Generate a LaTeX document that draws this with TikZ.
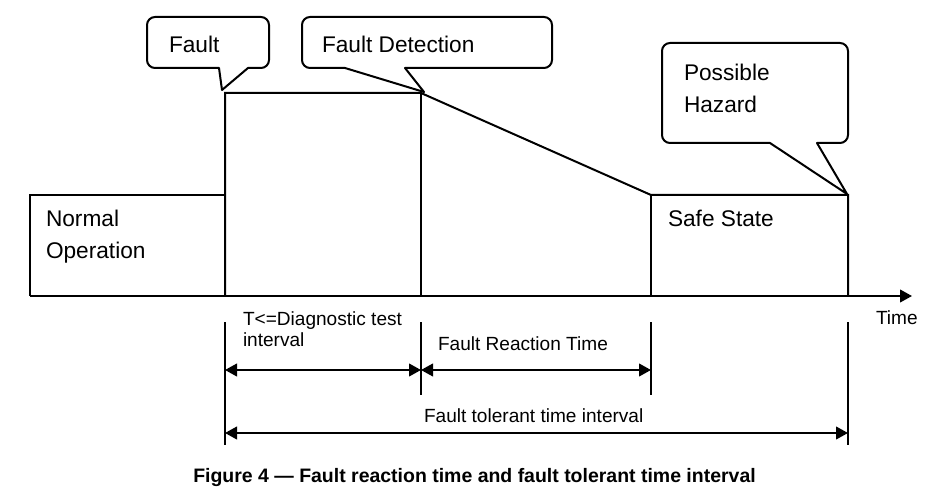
\documentclass[tikz,border=0pt]{standalone}
\usepackage{fontspec}
\setmainfont{Liberation Sans}
\usetikzlibrary{arrows.meta}
\tikzset{
  big/.style={font=\fontsize{17}{24}\selectfont,inner sep=0pt,anchor=base west,align=left},
  small/.style={font=\fontsize{14.3}{15.75}\selectfont,inner sep=0pt,anchor=base west,align=left},
  bubble/.style={line width=1.5pt,fill=white,line join=round},
  dim/.style={line width=1.5pt,{Triangle[length=9pt,width=9.5pt]}-{Triangle[length=9pt,width=9.5pt]}}
}
\begin{document}
\begin{tikzpicture}
  [x=0.75pt,y=-0.75pt,line width=1.5pt]
  \useasboundingbox (0,0) rectangle (928,502);
  % time axis points
  \coordinate (t0) at (30,296);
  \coordinate (t1) at (225,296);
  \coordinate (t2) at (421,296);
  \coordinate (t3) at (651,296);
  \coordinate (t4) at (848,296);
  \coordinate (tend) at (912,296);
  % levels
  \coordinate (a0) at (30,195);
  \coordinate (a1) at (225,195);
  \coordinate (b1) at (225,93);
  \coordinate (b2) at (421,93);
  \coordinate (c3) at (651,195);
  \coordinate (c4) at (848,195);

  \draw (t0) -- (a0) -- (a1);
  \draw (t1) -- (b1) -- (b2) -- (c3) -- (c4) -- (t4);
  \draw (b2) -- (t2);
  \draw (c3) -- (t3);
  \draw[-{Triangle[length=9pt,width=9.5pt]}] (t0) -- (tend);

  % callouts
  \draw[bubble] (208,17) [rounded corners=6pt] -- (147,17) -- (147,68)
    [sharp corners] -- (219,68) -- (222,90) -- (248,68) [rounded corners=6pt] -- (269,68) -- (269,17) -- cycle;
  \draw[bubble] (427,17) [rounded corners=6pt] -- (302,17) -- (302,68)
    [sharp corners] -- (345,68) -- (424,92) -- (405,68) [rounded corners=6pt] -- (552,68) -- (552,17) -- cycle;
  \draw[bubble] (755,43) [rounded corners=6pt] -- (662,43) -- (662,143)
    [sharp corners] -- (770,143) -- (847,194) -- (817,143) [rounded corners=6pt] -- (848,143) -- (848,43) -- cycle;

  \node[big] (fault) at (168,53) {Fault};
  \node[big] (detect) at (321,53) {Fault Detection};
  \node[big] (hazard) at (683,113) {Possible\\Hazard};
  \node[big] (normal) at (45,259) {Normal\\Operation};
  \node[big] (safe) at (667,227) {Safe State};
  \node[small] (time) at (875,325) {Time};

  % interval marks
  \foreach \x/\y in {225/445,421/395,651/395,848/445}
    \draw (\x,322) -- (\x,\y);
  \coordinate (m1) at (225,370);
  \coordinate (m2) at (421,370);
  \coordinate (m3) at (651,370);
  \coordinate (w1) at (225,433);
  \coordinate (w2) at (848,433);
  \draw[dim] (m1) -- (m2);
  \draw[dim] (m2) -- (m3);
  \draw[dim] (w1) -- (w2);

  \node[small] (diag) at (242,346) {T<=Diagnostic test\\interval};
  \node[small] (react) at (437,350) {Fault Reaction Time};
  \node[small] (tol) at (423,422) {Fault tolerant time interval};

  \node[font=\bfseries\fontsize{14.6}{16}\selectfont,inner sep=0pt,anchor=base] (caption) at (474.5,482)
    {Figure 4 — Fault reaction time and fault tolerant time interval};
\end{tikzpicture}
\end{document}
